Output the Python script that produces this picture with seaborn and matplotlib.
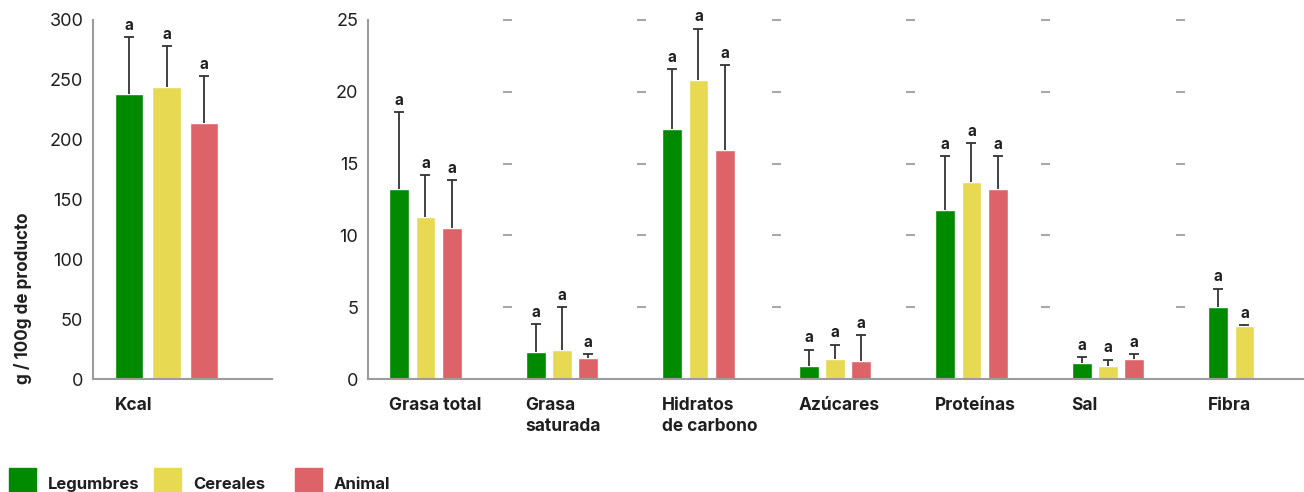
import matplotlib
matplotlib.use("Agg")
import matplotlib.pyplot as plt
import matplotlib.transforms as mtransforms
from matplotlib.container import BarContainer
from matplotlib.patches import Rectangle
import pandas as pd
import seaborn as sns

# Series (diet groups) and colours
groups = ["Legumbres", "Cereales", "Animal"]
palette = ["#008a00", "#e8d952", "#dd6369"]

# Energy per 100 g: mean and mean + SD
kcal_label = "Kcal"
kcal_mean = [238, 244, 214]
kcal_upper = [286, 278, 253]
kcal_letters = ["a", "a", "a"]

# Nutrients per 100 g of product: mean and mean + SD (None = not reported)
nutrients = ["Grasa total", "Grasa\nsaturada", "Hidratos\nde carbono",
             "Azúcares", "Proteínas", "Sal", "Fibra"]
legumbres_mean = [13.2, 1.9, 17.4, 0.9, 11.8, 1.1, 5.0]
legumbres_upper = [18.6, 3.85, 21.6, 2.05, 15.5, 1.55, 6.3]
cereales_mean = [11.3, 2.0, 20.8, 1.4, 13.7, 0.9, 3.7]
cereales_upper = [14.2, 5.0, 24.4, 2.4, 16.4, 1.35, 3.75]
animal_mean = [10.5, 1.45, 15.95, 1.25, 13.2, 1.4, None]
animal_upper = [13.85, 1.75, 21.85, 3.05, 15.55, 1.75, None]
nutrient_letters = ["a"] * 7

kcal_ticks = [0, 50, 100, 150, 200, 250, 300]
nutrient_ticks = [0, 5, 10, 15, 20, 25]
y_label = "g / 100g de producto"

sns.set_style("white")
plt.rcParams["font.family"] = ["Inter", "DejaVu Sans"]

TEXT = "#1f1f1f"
AXIS = "#9c9c9c"
ERR = "#333333"

fig = plt.figure(figsize=(13.04, 4.92), dpi=100)
W, H = 1304, 492
ax_k = fig.add_axes([93 / W, 1 - 379 / H, 179 / W, 359 / H])
ax_n = fig.add_axes([368 / W, 1 - 379 / H, 936 / W, 359 / H])

# Long-form tables
kcal_df = pd.DataFrame({"cat": [kcal_label] * 3, "group": groups, "value": kcal_mean})
rows = []
for g, means in zip(groups, [legumbres_mean, cereales_mean, animal_mean]):
    for n, v in zip(nutrients, means):
        if v is not None:
            rows.append({"cat": n, "group": g, "value": v})
nut_df = pd.DataFrame(rows)

uppers_k = [[u] for u in kcal_upper]
uppers_n = [legumbres_upper, cereales_upper, animal_upper]


def draw_panel(ax, df, order, uppers, letters, ticks, xlim):
    sns.barplot(data=df, x="cat", y="value", hue="group", order=order,
                hue_order=groups, palette=palette, saturation=1,
                width=0.58, gap=0.245, errorbar=None, legend=False, ax=ax)
    bar_conts = [c for c in ax.containers if isinstance(c, BarContainer)]
    left_edges = {}
    for i, cont in enumerate(bar_conts):
        for bar in cont:
            h = bar.get_height()
            if h != h:  # NaN bar
                continue
            cx = bar.get_x() + bar.get_width() / 2
            k = int(round(cx))
            left_edges[k] = min(left_edges.get(k, 1e9), bar.get_x())
            up = uppers[i][k]
            eb = ax.errorbar([cx], [h], yerr=[[0], [up - h]], fmt="none",
                             ecolor=ERR, elinewidth=1.3, capsize=3.4,
                             capthick=1.3, zorder=3)
            # one-sided bar: keep only the upper cap
            eb[1][0].set_visible(False)
            ax.annotate(letters[k], (cx, up), xytext=(0, 3),
                        textcoords="offset points", ha="center",
                        va="bottom", fontsize=11, fontweight="bold",
                        color=TEXT)
    ax.set_xlim(*xlim)
    ax.set_ylim(ticks[0], ticks[-1])
    ax.set_yticks(ticks)
    ax.set_yticklabels([str(t) for t in ticks])
    ax.set_xlabel("")
    ax.set_ylabel("")
    ax.set_xticks([])
    for s in ["top", "right"]:
        ax.spines[s].set_visible(False)
    for s in ["left", "bottom"]:
        ax.spines[s].set_color(AXIS)
        ax.spines[s].set_linewidth(1.5)
    ax.tick_params(axis="y", direction="in", length=5.5, width=1.4,
                   color=AXIS, pad=7, labelsize=13, labelcolor=TEXT)
    trans = mtransforms.blended_transform_factory(ax.transData, ax.transAxes)
    for k, name in enumerate(order):
        ax.text(left_edges[k], -0.05, name, transform=trans, ha="left",
                va="top", fontsize=12.5, fontweight="bold", color=TEXT,
                linespacing=1.32)


draw_panel(ax_k, kcal_df, [kcal_label], uppers_k, kcal_letters,
           kcal_ticks, (-0.379, 0.544))
draw_panel(ax_n, nut_df, nutrients, uppers_n, nutrient_letters,
           nutrient_ticks, (-0.421, 6.436))

# Short reference ticks at the edge of each nutrient cell
facet = 134.6 / 936
tr_n = mtransforms.blended_transform_factory(ax_n.transAxes, ax_n.transData)
for j in range(1, len(nutrients)):
    x0 = j * facet
    ax_n.hlines(nutrient_ticks[1:], x0, x0 + 9 / 936, transform=tr_n,
                colors="#a8a8a8", linewidth=1.5, clip_on=False)

fig.text(23 / W, 1 - 298 / H, y_label, rotation=90, ha="center",
         va="center", fontsize=12.3, fontweight="bold", color=TEXT)

# Legend along the bottom edge
legend_x = [9, 154, 295]
for x, g, c in zip(legend_x, groups, palette):
    fig.patches.append(Rectangle((x / W, -0.02), 27 / W, 24 / H + 0.02,
                                 transform=fig.transFigure, color=c,
                                 figure=fig))
    fig.text((x + 39) / W, 3 / H, g, ha="left", va="baseline",
             fontsize=12, fontweight="bold", color=TEXT)

fig.savefig("out.png", dpi=100)
